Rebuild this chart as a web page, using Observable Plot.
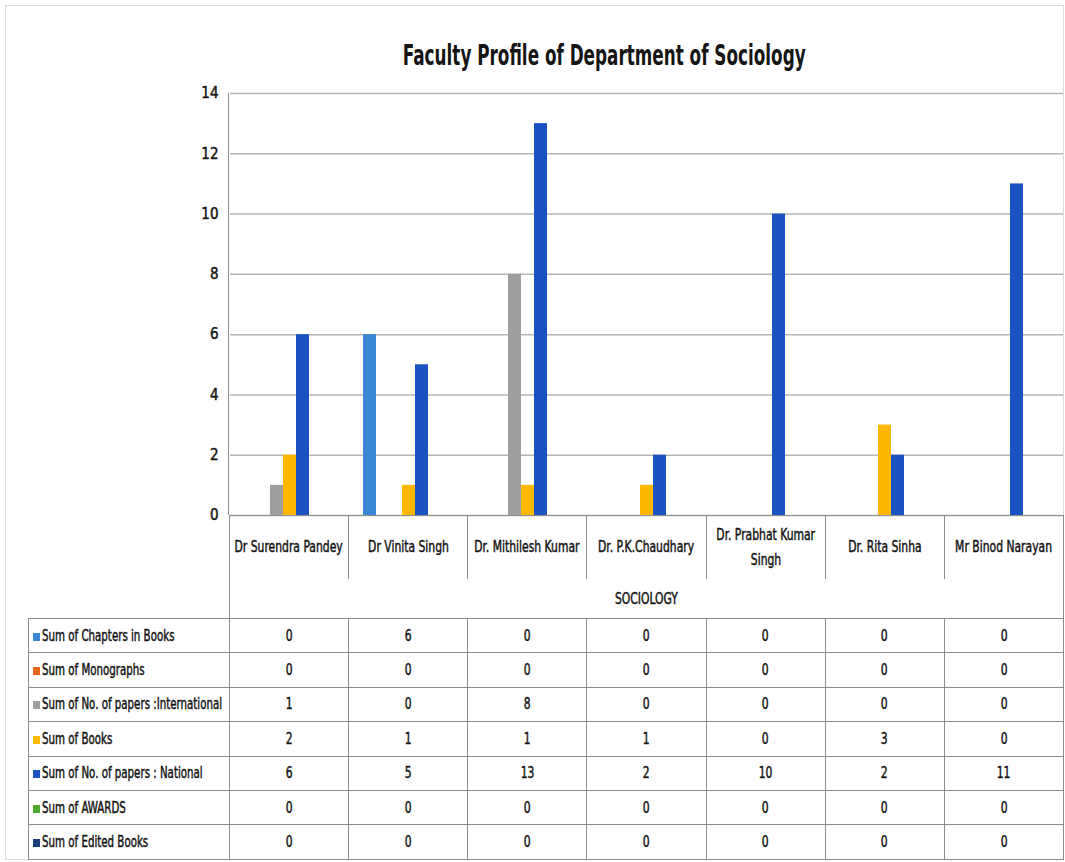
<!DOCTYPE html>
<html><head><meta charset="utf-8">
<script src="https://cdn.jsdelivr.net/npm/d3@7"></script>
<script src="https://cdn.jsdelivr.net/npm/@observablehq/plot@0.6"></script>
<style>
body{margin:0;background:#fff;}
#wrap{position:relative;width:1065px;height:862px;font-family:"Liberation Sans Narrow","DejaVu Sans Condensed","Roboto Condensed","Liberation Sans",sans-serif;font-stretch:condensed;color:#151515;}
#outer{position:absolute;left:5px;top:5px;width:1057px;height:853px;border:1px solid #dcdcdc;}
#title{position:absolute;top:38px;left:104px;width:1000px;display:flex;justify-content:center;font-size:29px;font-weight:bold;white-space:nowrap;line-height:1.2;}
#chart{position:absolute;left:0;top:0;}
#chart [aria-label="y-axis tick label"]{stroke:#151515;stroke-width:0.45px;}
#axisline{position:absolute;left:228px;top:93px;height:422px;border-left:1.5px solid #909090;}
table{position:absolute;left:28px;top:515px;width:1035px;border-collapse:collapse;table-layout:fixed;}
td{padding:0;font-size:15px;text-align:center;white-space:nowrap;-webkit-text-stroke:0.45px #151515;}
.cell{display:flex;justify-content:center;align-items:center;}
tr.names td{height:63px;}
tr.names td.c{border-left:1px solid #8c8c8c;border-right:1px solid #8c8c8c;border-top:1.5px solid #909090;line-height:25px;}
tr.names .cell{flex-direction:column;}
tr.dept td{height:39px;}
tr.dept td.c{border-left:1px solid #8c8c8c;border-right:1px solid #8c8c8c;}
tr.data td{height:33.4px;border:1px solid #8c8c8c;}
tr.data td.lab{text-align:left;padding-left:4px;overflow:hidden;}
.sq{display:inline-block;width:7px;height:8px;margin-right:2px;-webkit-text-stroke:0;}
.sx{display:inline-block;transform-origin:50% 50%;}
.sxl{display:inline-block;transform-origin:0 50%;}
</style></head>
<body>
<div id="wrap">
  <div id="outer"></div>
  <div id="title"></div>
  <div id="chart"></div>
  <div id="axisline"></div>
</div>
<script>
const titleText = "Faculty Profile of Department of Sociology";
const department = "SOCIOLOGY";
const faculty = ["Dr Surendra Pandey","Dr Vinita Singh","Dr. Mithilesh Kumar","Dr. P.K.Chaudhary","Dr. Prabhat Kumar Singh","Dr. Rita Sinha","Mr Binod Narayan"];
const seriesNames = ["Sum of Chapters in Books","Sum of Monographs","Sum of No. of papers :International","Sum of Books","Sum of No. of papers : National","Sum of AWARDS","Sum of Edited Books"];
const chapters      = [0, 6, 0, 0, 0, 0, 0];
const monographs    = [0, 0, 0, 0, 0, 0, 0];
const international = [1, 0, 8, 0, 0, 0, 0];
const books         = [2, 1, 1, 1, 0, 3, 0];
const national      = [6, 5, 13, 2, 10, 2, 11];
const awards        = [0, 0, 0, 0, 0, 0, 0];
const edited        = [0, 0, 0, 0, 0, 0, 0];
const yTicks = [0, 2, 4, 6, 8, 10, 12, 14];
const colors = ["#3A86D4", "#E8631C", "#9E9E9E", "#FFB800", "#1A52C2", "#4EA72E", "#1B3E7A"];

const seriesValues = [chapters, monographs, international, books, national, awards, edited];
const data = [];
faculty.forEach((f, i) => seriesNames.forEach((s, j) => data.push({faculty: f, series: s, value: seriesValues[j][i]})));

const font = '"Liberation Sans Narrow","DejaVu Sans Condensed","Roboto Condensed","Liberation Sans",sans-serif';

function squeezed(text, ratio, left) {
  const s = document.createElement("span");
  s.className = left ? "sxl" : "sx";
  s.style.transform = `scaleX(${ratio})`;
  s.textContent = text;
  return s;
}
function centered(...children) {
  const d = document.createElement("div");
  d.className = "cell";
  d.append(...children);
  return d;
}

document.getElementById("title").append(squeezed(titleText, 0.645));

const chart = Plot.plot({
  width: 1065, height: 540,
  marginTop: 93, marginBottom: 25, marginLeft: 229, marginRight: 2,
  style: {fontFamily: font, fontSize: "15px", color: "#151515", background: "transparent", overflow: "visible"},
  fx: {domain: faculty, padding: 0, axis: null},
  x: {domain: seriesNames, paddingInner: 0, paddingOuter: 0.85, axis: null},
  y: {domain: [0, 14]},
  color: {domain: seriesNames, range: colors},
  marks: [
    Plot.gridY(yTicks, {stroke: "#b5b5b5", strokeOpacity: 1, strokeWidth: 1.5}),
    Plot.axisY(yTicks, {tickSize: 0, tickPadding: 12, label: null}),
    Plot.barY(data.filter(d => d.value > 0), {fx: "faculty", x: "series", y: "value", fill: "series"})
  ]
});
document.getElementById("chart").append(chart);

// data table below the chart
const table = document.createElement("table");
const colgroup = document.createElement("colgroup");
const c0 = document.createElement("col"); c0.style.width = "201px"; colgroup.append(c0);
faculty.forEach(() => { const c = document.createElement("col"); c.style.width = "119.14px"; colgroup.append(c); });
table.append(colgroup);

const trN = document.createElement("tr"); trN.className = "names";
trN.append(document.createElement("td"));
faculty.forEach(f => {
  const td = document.createElement("td"); td.className = "c";
  if (f.length > 20) {
    const k = f.lastIndexOf(" ");
    td.append(centered(squeezed(f.slice(0, k), 0.8), squeezed(f.slice(k + 1), 0.8)));
  } else {
    td.append(centered(squeezed(f, 0.8)));
  }
  trN.append(td);
});
table.append(trN);

const trD = document.createElement("tr"); trD.className = "dept";
trD.append(document.createElement("td"));
const tdD = document.createElement("td"); tdD.className = "c"; tdD.colSpan = faculty.length;
tdD.append(centered(squeezed(department, 0.8)));
trD.append(tdD);
table.append(trD);

seriesNames.forEach((s, j) => {
  const tr = document.createElement("tr"); tr.className = "data";
  const lab = document.createElement("td"); lab.className = "lab";
  const sq = document.createElement("span"); sq.className = "sq"; sq.style.background = colors[j];
  lab.append(sq, squeezed(s, 0.76, true));
  tr.append(lab);
  seriesValues[j].forEach(v => { const td = document.createElement("td"); td.append(centered(squeezed(String(v), 0.8))); tr.append(td); });
  table.append(tr);
});
document.getElementById("wrap").append(table);
</script>
</body></html>
